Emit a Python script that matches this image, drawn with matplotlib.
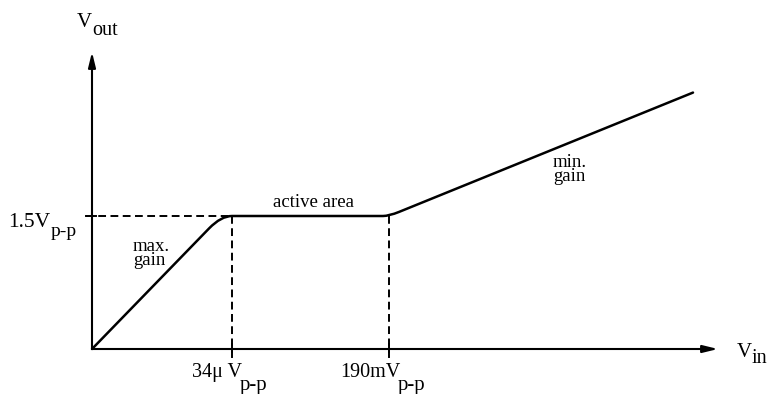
import numpy as np
import matplotlib
matplotlib.use("Agg")
import matplotlib.pyplot as plt
from matplotlib.path import Path
from matplotlib.patches import PathPatch

# Transfer characteristic (schematic units, origin at the axes crossing)
knee_low_x = 140        # 34 uV p-p input
knee_high_x = 297       # 190 mV p-p input
plateau_y = 133         # 1.5 V p-p output
max_gain_slope = 1.03
min_gain_slope = 0.406
end_x = 601

x_axis_end = 626
y_axis_end = 297

x_tick_labels = [("34\u03bc V", "p-p"), ("190mV", "p-p")]
x_tick_positions = [knee_low_x, knee_high_x]
y_tick_label = ("1.5V", "p-p")

fig = plt.figure(figsize=(7.69, 3.94), dpi=100)
ax = fig.add_axes([0, 0, 1, 1])
ax.set_xlim(-92, 677)
ax.set_ylim(-45, 349)
ax.axis("off")

serif = "Liberation Serif"
lw = 1.5

# Axes with arrowheads
arrow = dict(arrowstyle="-|>,head_length=0.9,head_width=0.22", color="black",
             lw=lw, shrinkA=0, shrinkB=0)
ax.annotate("", xy=(x_axis_end, 0), xytext=(0, 0), arrowprops=arrow)
ax.annotate("", xy=(0, y_axis_end), xytext=(0, 0), arrowprops=arrow)

# Dashed guide lines with small solid ticks where they cross the axes
dash = dict(color="black", lw=1.4, linestyle=(0, (4, 2.3)))
ax.plot([-6, knee_low_x], [plateau_y, plateau_y], **dash)
ax.plot([-6, 4], [plateau_y, plateau_y], color="black", lw=1.4)
for xp in x_tick_positions:
    ax.plot([xp, xp], [plateau_y, -4], **dash)
    ax.plot([xp, xp], [-8, 5], color="black", lw=1.4)

# Curve: max-gain ramp, rounded knee, plateau, rounded knee, min-gain ramp
corner1_x = plateau_y / max_gain_slope
ramp_end = (corner1_x - 12, plateau_y - 12 * max_gain_slope)
corner2_x = knee_high_x
ramp2_start = (corner2_x + 10, plateau_y + 10 * min_gain_slope)
end_y = plateau_y + (end_x - corner2_x) * min_gain_slope

verts = [(0, 0), ramp_end, (corner1_x, plateau_y), (knee_low_x, plateau_y),
         (corner2_x - 6, plateau_y), (corner2_x, plateau_y), ramp2_start,
         (end_x, end_y)]
codes = [Path.MOVETO, Path.LINETO, Path.CURVE3, Path.CURVE3,
         Path.LINETO, Path.CURVE3, Path.CURVE3, Path.LINETO]
ax.add_patch(PathPatch(Path(verts, codes), fill=False, lw=1.8,
                       edgecolor="black", capstyle="round", joinstyle="round"))

def label(x, y, main, sub, size, sub_dx, sub_dy, sub_size=None):
    ax.text(x, y, main, family=serif, fontsize=size, ha="left", va="baseline")
    ax.text(x + sub_dx, y + sub_dy, sub, family=serif,
            fontsize=sub_size or size, ha="left", va="baseline")

# Axis titles
label(-15, 322, "V", "out", 15, 15, -8, 14.5)
label(645, -8, "V", "in", 15, 15, -6, 14.5)

# Tick labels
label(-84, 122, y_tick_label[0], y_tick_label[1], 15.5, 43, -9, 14)
label(100, -28, x_tick_labels[0][0], x_tick_labels[0][1], 14.5, 48, -13, 15)
label(248, -28, x_tick_labels[1][0], x_tick_labels[1][1], 14.5, 58, -13, 15)

# Region annotations
region = dict(family=serif, fontsize=13.5, ha="left", va="top",
              linespacing=0.8)
ax.text(41, 111, "max.\ngain", **region)
ax.text(181, 142, "active area", family=serif, fontsize=13.5,
        ha="left", va="baseline")
ax.text(461, 195, "min.\ngain", **region)

fig.savefig("out.png", dpi=100, facecolor="white")
